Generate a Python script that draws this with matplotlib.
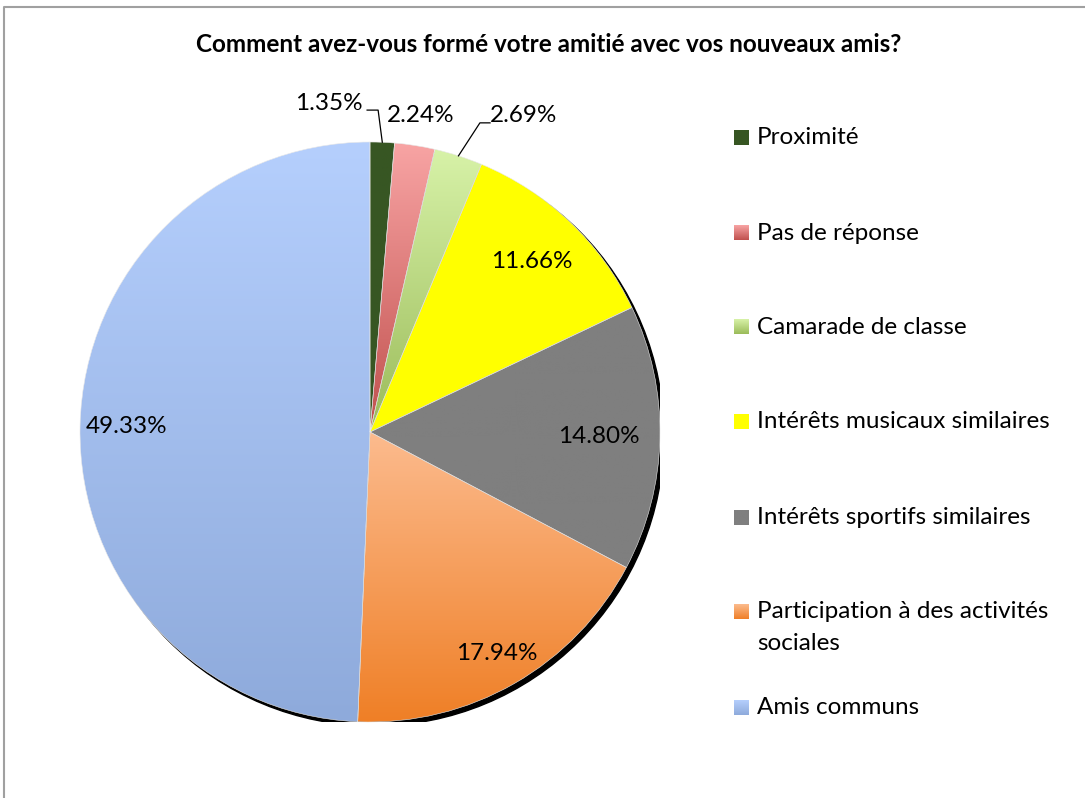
import numpy as np
import matplotlib
matplotlib.use('Agg')
import matplotlib.pyplot as plt
from matplotlib.colors import LinearSegmentedColormap
from matplotlib.patches import Circle

plt.rcParams['font.family'] = ['Lato', 'DejaVu Sans']

title = "Comment avez-vous formé votre amitié avec vos nouveaux amis?"
categories = ["Proximité", "Pas de réponse", "Camarade de classe",
              "Intérêts musicaux similaires", "Intérêts sportifs similaires",
              "Participation à des activités\nsociales", "Amis communs"]
values = [1.35, 2.24, 2.69, 11.66, 14.80, 17.94, 49.33]
value_labels = ["1.35%", "2.24%", "2.69%", "11.66%", "14.80%", "17.94%", "49.33%"]

# top / bottom colour of each slice's vertical gradient
top_colors = ["#375623", "#f8a4a4", "#d7f2a8", "#ffff00", "#7f7f7f", "#fcbb8e", "#b5cffd"]
bottom_colors = ["#375623", "#c0504d", "#9bbb59", "#ffff00", "#7f7f7f", "#ef7f26", "#8eaadb"]

W, H = 1085, 798
fig = plt.figure(figsize=(W / 100, H / 100), dpi=100)

# pie centre (370, 432) px, radius 290 px
cx, cy, R = 370, 432, 290
ax = fig.add_axes([(cx - R) / W, (H - cy - R) / H, 2 * R / W, 2 * R / H])
ax.set_xlim(-1, 1)
ax.set_ylim(-1, 1)
ax.set_aspect('equal')
ax.axis('off')

# shadow
ax.add_patch(Circle((4 / R, -4 / R), 1.0, color='black', zorder=0))

wedges, _ = ax.pie(values, startangle=90, counterclock=False, radius=1,
                   wedgeprops=dict(linewidth=0.4, edgecolor='#e8e8e8'))
grad = np.linspace(0, 1, 256).reshape(-1, 1)
for w, c1, c2 in zip(wedges, top_colors, bottom_colors):
    ext = w.get_path().get_extents()
    cmap = LinearSegmentedColormap.from_list('g', [c1, c2])
    im = ax.imshow(grad, cmap=cmap, extent=(ext.x0, ext.x1, ext.y0, ext.y1),
                   origin='upper', aspect='auto', zorder=1)
    im.set_clip_path(w)
    w.set_facecolor('none')
    w.set_zorder(2)
ax.set_xlim(-1, 1)
ax.set_ylim(-1, 1)

# value labels
fs = 17.5
frac = np.array(values) / sum(values)
mid = np.cumsum(frac) - frac / 2
ang = np.deg2rad(90 - mid * 360)
inside_r = {3: 0.81, 4: 0.79, 5: 0.88, 6: 0.84}
for i, r in inside_r.items():
    ax.text(r * np.cos(ang[i]), r * np.sin(ang[i]), value_labels[i],
            ha='center', va='center', fontsize=fs, zorder=5)

# small slices: outside with leader lines
ax.text(-41 / R, 329 / R, value_labels[0], ha='center', va='center', fontsize=fs)
ax.plot([-0.01, 0.028, np.cos(ang[0])], [1.11, 1.11, np.sin(ang[0])],
        color='black', lw=0.9, clip_on=False)
ax.text(51 / R, 317 / R, value_labels[1], ha='center', va='center', fontsize=fs)
ax.text(154 / R, 317 / R, value_labels[2], ha='center', va='center', fontsize=fs)
ax.plot([0.414, 0.379, np.cos(ang[2])], [1.066, 1.066, np.sin(ang[2])],
        color='black', lw=0.9, clip_on=False)

# overlay in pixel coords: title, legend, frame
ov = fig.add_axes([0, 0, 1, 1], facecolor='none')
ov.set_xlim(0, W)
ov.set_ylim(H, 0)
ov.axis('off')
ov.plot([4, 4, W + 5], [H + 5, 7, 7], color='#a0a0a0', lw=1.5)
ov.text(549, 45, title, ha='center', va='center', fontsize=17.5, fontweight='bold')

leg_y = [138, 233, 327, 422, 518, 612, 708]
for y, lab, c1, c2 in zip(leg_y, categories, top_colors, bottom_colors):
    cmap = LinearSegmentedColormap.from_list('g', [c1, c2])
    ov.imshow(grad, cmap=cmap, extent=(734, 749, y + 7.5, y - 7.5),
              origin='upper', aspect='auto')
    if '\n' in lab:
        ov.text(757, y - 11, lab, ha='left', va='top', fontsize=fs, linespacing=1.62)
    else:
        ov.text(757, y, lab, ha='left', va='center', fontsize=fs)
ov.set_xlim(0, W)
ov.set_ylim(H, 0)

fig.savefig('out.png', dpi=100)
